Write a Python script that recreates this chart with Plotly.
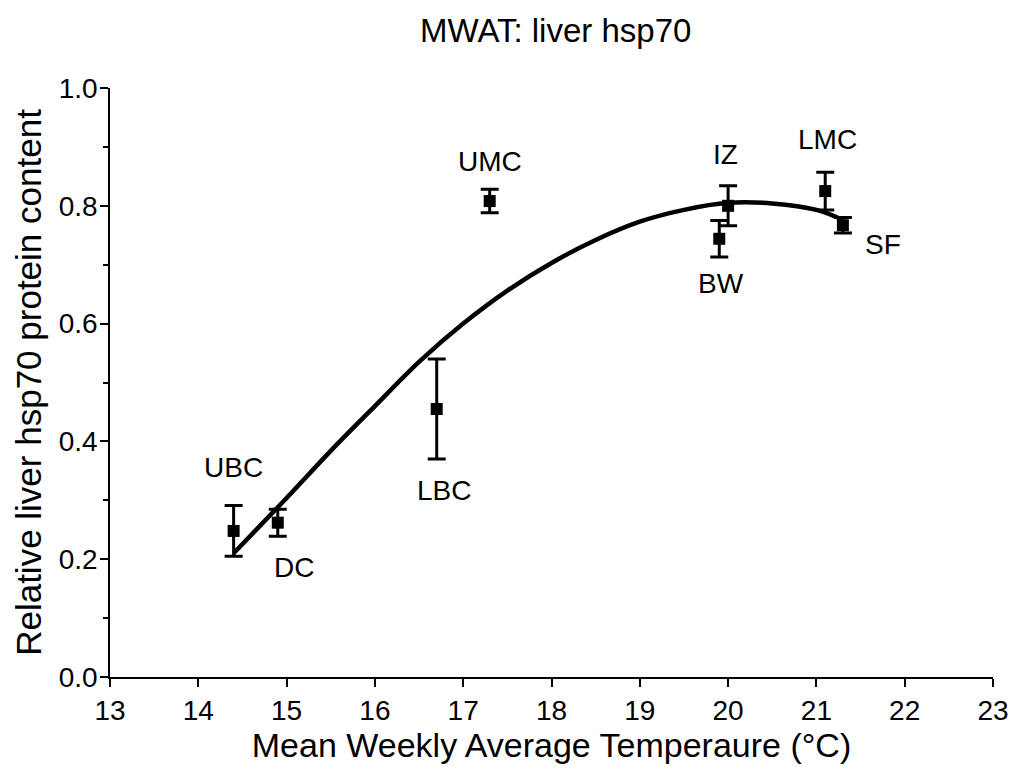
import plotly.graph_objects as go

# Data
sites = ["UBC", "DC", "LBC", "UMC", "IZ", "BW", "LMC", "SF"]
mwat = [14.4, 14.9, 16.7, 17.3, 20.0, 19.9, 21.1, 21.3]
hsp70 = [0.248, 0.262, 0.455, 0.808, 0.800, 0.744, 0.825, 0.767]
sem = [0.043, 0.023, 0.085, 0.020, 0.034, 0.031, 0.032, 0.013]

# Fitted curve
fit_x = [14.4, 15.0, 15.5, 16.0, 16.5, 17.0, 17.5, 18.0, 18.5, 19.0, 19.5, 20.0, 20.5, 21.0, 21.3]
fit_y = [0.21, 0.304, 0.384, 0.46, 0.535, 0.60, 0.656, 0.703, 0.742, 0.773, 0.793, 0.805, 0.804, 0.793, 0.776]

x_ticks = list(range(13, 24))
y_ticks = [0.0, 0.2, 0.4, 0.6, 0.8, 1.0]

# label offsets in pixels (style)
label_shift = {
    "UBC": (0, 63), "DC": (16, -45), "LBC": (7, -81), "UMC": (0, 40),
    "IZ": (-3, 51), "BW": (2, -45), "LMC": (2, 52), "SF": (40, -19),
}

FONT = "Liberation Sans, Arial, sans-serif"

fig = go.Figure()
fig.add_trace(go.Scatter(
    x=fit_x, y=fit_y, mode="lines",
    line=dict(color="black", width=4.5, shape="spline", smoothing=1.0),
    showlegend=False, hoverinfo="skip",
))
fig.add_trace(go.Scatter(
    x=mwat, y=hsp70, mode="markers",
    marker=dict(symbol="square", size=12, color="black"),
    error_y=dict(type="data", array=sem, visible=True, color="black", thickness=3, width=9),
    showlegend=False,
))

for s, xv, yv in zip(sites, mwat, hsp70):
    dx, dy = label_shift[s]
    fig.add_annotation(x=xv, y=yv, text=s, showarrow=False, xshift=dx, yshift=dy,
                       font=dict(family=FONT, size=28, color="black"))

fig.update_layout(
    width=1014, height=773,
    margin=dict(l=110, r=21, t=88, b=96),
    paper_bgcolor="white", plot_bgcolor="white",
    font=dict(family=FONT, color="black"),
    title=dict(text="MWAT: liver hsp70", x=0.548, xanchor="center", y=0.96, yanchor="middle",
               font=dict(family=FONT, size=33, color="black")),
)
fig.update_xaxes(
    range=[13, 23], tickvals=x_ticks, ticktext=[str(t) for t in x_ticks],
    automargin=False,
    showline=True, linecolor="black", linewidth=1.5, showgrid=False, zeroline=False,
    ticks="outside", ticklen=8, tickwidth=1.5, tickcolor="black",
    tickfont=dict(family=FONT, size=28, color="black"),
    title=dict(text="Mean Weekly Average Temperaure (°C)", standoff=1,
               font=dict(family=FONT, size=34, color="black")),
)
fig.update_yaxes(
    range=[0, 1], tickvals=y_ticks, ticktext=[f"{t:.1f}" for t in y_ticks],
    automargin=False, ticklabelstandoff=-3,
    showline=True, linecolor="black", linewidth=1.5, showgrid=False, zeroline=False,
    ticks="outside", ticklen=8, tickwidth=1.5, tickcolor="black",
    minor=dict(dtick=0.1, ticks="outside", ticklen=5, tickwidth=1.5, tickcolor="black", showgrid=False),
    tickfont=dict(family=FONT, size=28, color="black"),
    title=dict(text="Relative liver hsp70 protein content", standoff=6,
               font=dict(family=FONT, size=35, color="black")),
)

fig.write_html("out.html")
